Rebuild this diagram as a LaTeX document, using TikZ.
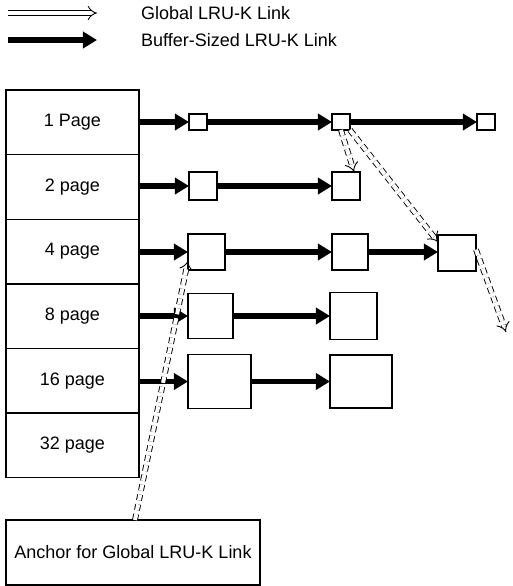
\documentclass[tikz,border=0pt]{standalone}
\usepackage{fontspec}
\setmainfont{Liberation Sans}
\usetikzlibrary{arrows.meta,positioning}
\tikzset{
  pagebox/.style={draw,line width=0.7pt,minimum width=66.5pt,minimum height=32.3pt,inner sep=0pt,outer sep=0pt},
  blk/.style={draw,line width=0.7pt,fill=white,inner sep=0pt,outer sep=0pt,anchor=west},
  bufedge/.style={-{Triangle[length=7pt,width=8pt]},line width=2.6pt},
  gedge/.style={-{Implies},double,double distance=2pt,line width=0.45pt},
  gdash/.style={gedge,densely dashed},
  every node/.style={font=\fontsize{9}{11}\selectfont}
}
\begin{document}
\begin{tikzpicture}[x=0.5pt,y=-0.5pt]
\useasboundingbox (0,0) rectangle (513,586);
% legend
\coordinate (lga) at (8,13);
\coordinate (lgb) at (97,13);
\coordinate (lba) at (8,40);
\coordinate (lbb) at (97,40);
\draw[gedge] (lga) -- (lgb);
\draw[bufedge,line width=3.2pt] (lba) -- (lbb);
\node[anchor=west] (lgt) at (134,13) {Global LRU-K Link};
\node[anchor=west] (lbt) at (134,40) {Buffer-Sized LRU-K Link};
% page size column
\node[pagebox] (p1) at (72.5,122.3) {1 Page};
\node[pagebox,below=0pt of p1] (p2) {2 page};
\node[pagebox,below=0pt of p2] (p4) {4 page};
\node[pagebox,below=0pt of p4] (p8) {8 page};
\node[pagebox,below=0pt of p8] (p16) {16 page};
\node[pagebox,below=0pt of p16] (p32) {32 page};
\node[draw,line width=0.7pt,minimum width=127pt,minimum height=32.5pt] (anc) at (133,552.5) {Anchor for Global LRU-K Link};
% buffers
\node[blk,minimum width=9pt,minimum height=8pt] (b1a) at (189,122) {};
\node[blk,minimum width=9pt,minimum height=8pt] (b1b) at (332,122) {};
\node[blk,minimum width=9pt,minimum height=8pt] (b1c) at (477,122) {};
\node[blk,minimum width=14pt,minimum height=14pt] (b2a) at (189,186) {};
\node[blk,minimum width=14pt,minimum height=14pt] (b2b) at (332,186) {};
\node[blk,minimum width=18.5pt,minimum height=18pt] (b4a) at (188,252) {};
\node[blk,minimum width=18pt,minimum height=18pt] (b4b) at (332,252) {};
\node[blk,minimum width=19pt,minimum height=18pt] (b4c) at (438,253) {};
\node[blk,minimum width=22.5pt,minimum height=22.5pt] (b8a) at (188,316) {};
\node[blk,minimum width=23.5pt,minimum height=23.5pt] (b8b) at (330,316) {};
\node[blk,minimum width=31.5pt,minimum height=27pt] (b16a) at (188,381.5) {};
\node[blk,minimum width=31pt,minimum height=26.5pt] (b16b) at (330,381.5) {};
% buffer-sized links
\draw[bufedge] (p1.east |- b1a) -- (b1a.west);
\draw[bufedge] (b1a.east) -- (b1b.west);
\draw[bufedge] (b1b.east) -- (b1c.west);
\draw[bufedge] (p2.east |- b2a) -- (b2a.west);
\draw[bufedge] (b2a.east) -- (b2b.west);
\draw[bufedge] (p4.east |- b4a) -- (b4a.west);
\draw[bufedge] (b4a.east) -- (b4b.west);
\draw[bufedge] (b4b.east) -- (b4c.west |- b4b);
\draw[bufedge] (p8.east |- b8a) -- (b8a.west);
\draw[bufedge] (b8a.east) -- (b8b.west);
\draw[bufedge] (p16.east |- b16a) -- (b16a.west);
\draw[bufedge] (b16a.east) -- (b16b.west);
% global links
\coordinate (ganc) at (135,520);
\coordinate (gend) at (506,332);
\draw[gdash] (ganc) -- (b4a.205);
\draw[gdash] (b1b.south) -- (b2b.60);
\draw[gdash] (b1b.south east) -- (b4c.150);
\draw[gdash] (b4c.10) -- (gend);
\end{tikzpicture}
\end{document}
